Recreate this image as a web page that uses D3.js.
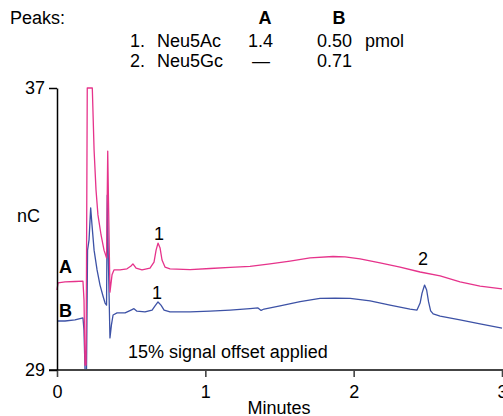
<!DOCTYPE html>
<html>
<head>
<meta charset="utf-8">
<script src="https://cdn.jsdelivr.net/npm/d3@7"></script>
<style>
  html, body { margin: 0; padding: 0; background: #fff; }
  svg text { font-family: "Liberation Sans", Arial, sans-serif; font-size: 18px; fill: #000; }
</style>
</head>
<body>
<svg id="chart" width="503" height="416"></svg>
<script>
// ---- data ----
const xTicks = [0, 1, 2, 3];
const yTicks = [29, 37];
const xLabel = "Minutes";
const yLabel = "nC";

const timeA = [0, 0.007, 0.054, 0.121, 0.175, 0.182, 0.189, 0.196, 0.204, 0.238, 0.25, 0.263, 0.276, 0.297, 0.317, 0.334, 0.342, 0.347, 0.357, 0.371, 0.384, 0.425, 0.472, 0.499, 0.512, 0.533, 0.573, 0.627, 0.654, 0.668, 0.681, 0.695, 0.708, 0.728, 0.762, 0.897, 1.032, 1.167, 1.301, 1.436, 1.571, 1.706, 1.861, 1.942, 2.043, 2.178, 2.313, 2.448, 2.583, 2.717, 2.852, 3.0];
const valueA = [31.27, 31.47, 31.50, 31.51, 31.52, 30.99, 29.14, 29.14, 37.0, 37.0, 35.24, 34.11, 33.40, 32.83, 32.40, 32.18, 35.21, 33.82, 31.21, 31.70, 31.84, 31.84, 31.87, 31.95, 32.01, 31.89, 31.84, 31.89, 32.06, 32.40, 32.60, 32.46, 32.12, 31.92, 31.87, 31.85, 31.88, 31.91, 31.94, 32.01, 32.09, 32.18, 32.22, 32.21, 32.15, 32.04, 31.92, 31.78, 31.67, 31.50, 31.38, 31.30];

const timeB = [0, 0.054, 0.121, 0.175, 0.182, 0.189, 0.199, 0.206, 0.216, 0.227, 0.236, 0.25, 0.27, 0.29, 0.310, 0.324, 0.334, 0.339, 0.345, 0.357, 0.367, 0.378, 0.405, 0.459, 0.499, 0.519, 0.539, 0.593, 0.641, 0.661, 0.681, 0.701, 0.722, 0.762, 0.897, 1.032, 1.167, 1.301, 1.355, 1.376, 1.396, 1.504, 1.639, 1.773, 1.875, 1.976, 2.111, 2.245, 2.380, 2.427, 2.448, 2.461, 2.478, 2.492, 2.505, 2.519, 2.536, 2.583, 2.717, 2.852, 3.0];
const valueB = [30.39, 30.39, 30.42, 30.48, 30.13, 29.0, 29.0, 32.40, 32.69, 33.60, 33.11, 32.40, 31.84, 31.41, 31.10, 30.90, 30.84, 33.96, 32.40, 29.91, 30.28, 30.56, 30.62, 30.62, 30.70, 30.74, 30.67, 30.65, 30.70, 30.82, 30.93, 30.84, 30.70, 30.65, 30.65, 30.67, 30.70, 30.74, 30.76, 30.69, 30.73, 30.82, 30.94, 31.03, 31.04, 31.03, 30.96, 30.84, 30.73, 30.70, 30.90, 31.18, 31.41, 31.27, 30.93, 30.68, 30.59, 30.53, 30.42, 30.31, 30.19];

const headerRows = [
  ["1.", "Neu5Ac", "1.4", "0.50", "pmol"],
  ["2.", "Neu5Gc", "\u2014", "0.71", ""]
];

// ---- layout ----
const svg = d3.select("#chart");
const x = d3.scaleLinear().domain([0, 3]).range([57, 502]);
const y = d3.scaleLinear().domain([29, 37]).range([370, 88]);

const colA = "#e6338b";
const colB = "#3d52a6";

// header
svg.append("text").attr("x", 10).attr("y", 24).text("Peaks:");
svg.append("text").attr("x", 265).attr("y", 24).attr("text-anchor", "middle").attr("font-weight", "bold").text("A");
svg.append("text").attr("x", 339).attr("y", 24).attr("text-anchor", "middle").attr("font-weight", "bold").text("B");
const colX = [130, 157, 248, 317, 365];
headerRows.forEach((row, i) => {
  row.forEach((t, j) => {
    if (!t) return;
    let xx = colX[j];
    if (t === "\u2014") xx = 252;
    svg.append("text").attr("x", xx).attr("y", 47 + i * 20).text(t);
  });
});

// traces
const line = d3.line().x(d => x(d[0])).y(d => y(d[1]));
const dataA = timeA.map((t, i) => [t, valueA[i]]);
const dataB = timeB.map((t, i) => [t, valueB[i]]);

svg.append("path").datum(dataB).attr("d", line)
  .attr("fill", "none").attr("stroke", colB).attr("stroke-width", 1.3).attr("stroke-linejoin", "round");
svg.append("path").datum(dataA).attr("d", line)
  .attr("fill", "none").attr("stroke", colA).attr("stroke-width", 1.3).attr("stroke-linejoin", "round");

// x axis
const gx = svg.append("g").attr("transform", `translate(0,${y(29)})`)
  .call(d3.axisBottom(x).tickValues(xTicks).tickFormat(d3.format("d")).tickSize(7).tickSizeOuter(0).tickPadding(8));
gx.select(".domain").remove();
gx.selectAll(".tick line").attr("stroke", "#444").attr("stroke-width", 1.6);
gx.selectAll(".tick text").style("font-size", "18px").style("font-family", "'Liberation Sans', Arial, sans-serif");
gx.append("line").attr("x1", 49).attr("x2", 503).attr("y1", 0).attr("y2", 0)
  .attr("stroke", "#444").attr("stroke-width", 2);

// y axis
const gy = svg.append("g").attr("transform", `translate(${x(0)},0)`)
  .call(d3.axisLeft(y).tickValues(yTicks).tickFormat(d3.format("d")).tickSize(8).tickSizeOuter(0).tickPadding(4));
gy.select(".domain").attr("stroke", "#000").attr("stroke-width", 1.5);
gy.selectAll(".tick line").attr("stroke", "#000").attr("stroke-width", 1.5);
gy.selectAll(".tick text").style("font-size", "18px").style("font-family", "'Liberation Sans', Arial, sans-serif");

// axis titles
svg.append("text").attr("x", 279).attr("y", 414).attr("text-anchor", "middle").text(xLabel);
svg.append("text").attr("x", 17).attr("y", 222).text(yLabel);

// trace labels
svg.append("text").attr("x", 59).attr("y", 273).attr("font-weight", "bold").text("A");
svg.append("text").attr("x", 59).attr("y", 317).attr("font-weight", "bold").text("B");

// peak labels
svg.append("text").attr("x", 159).attr("y", 240).attr("text-anchor", "middle").text("1");
svg.append("text").attr("x", 157).attr("y", 299).attr("text-anchor", "middle").text("1");
svg.append("text").attr("x", 423).attr("y", 265).attr("text-anchor", "middle").text("2");

// annotation
svg.append("text").attr("x", 128).attr("y", 358).text("15% signal offset applied");
</script>
</body>
</html>
